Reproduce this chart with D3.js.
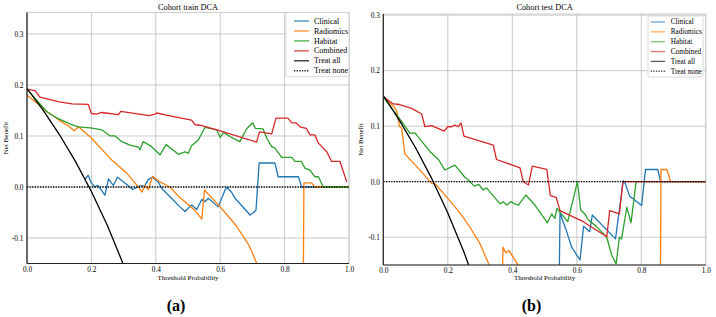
<!DOCTYPE html>
<html>
<head>
<meta charset="utf-8">
<script src="https://cdn.jsdelivr.net/npm/d3@7/dist/d3.min.js"></script>
<style>
  html, body { margin: 0; padding: 0; background: #fff; }
  svg { display: block; }
  text { font-family: "Liberation Serif", "DejaVu Serif", serif; fill: #000; }
</style>
</head>
<body>
<svg id="chart" width="716" height="317"></svg>
<script>
// ---------------- DATA (threshold probability, net benefit) ----------------
const xTicks = [0.0, 0.2, 0.4, 0.6, 0.8, 1.0];
const yTicks = [-0.1, 0.0, 0.1, 0.2, 0.3];
const seriesNames = ["Clinical", "Radiomics", "Habitat", "Combined", "Treat all", "Treat none"];

// Cohort train
const trainClinical = [[0.18,0.015],[0.19,0.023],[0.2,0.008],[0.211,0.0],[0.22,0.003],[0.242,-0.016],[0.253,0.016],[0.268,0.003],[0.281,0.019],[0.306,0.007],[0.328,-0.005],[0.351,0.002],[0.365,0.002],[0.377,0.015],[0.39,0.019],[0.407,0.010],[0.42,-0.004],[0.444,-0.019],[0.475,-0.039],[0.491,-0.048],[0.511,-0.035],[0.527,-0.044],[0.543,-0.024],[0.553,-0.029],[0.563,-0.022],[0.594,-0.039],[0.615,-0.006],[0.622,-0.001],[0.636,-0.011],[0.646,-0.022],[0.693,-0.055],[0.711,-0.046],[0.721,0.047],[0.77,0.047],[0.78,0.020],[0.843,0.020],[0.853,0.0],[1.0,0.0]];
const trainRadiomics = [[0,0.180],[0.03,0.165],[0.061,0.148],[0.085,0.138],[0.102,0.130],[0.128,0.120],[0.147,0.110],[0.16,0.118],[0.2,0.096],[0.258,0.056],[0.31,0.027],[0.33,0.012],[0.346,0.0],[0.357,-0.010],[0.366,0.003],[0.377,-0.005],[0.39,0.021],[0.41,0.011],[0.444,0.0],[0.47,-0.018],[0.496,-0.032],[0.52,-0.045],[0.543,-0.063],[0.551,-0.006],[0.6,-0.039],[0.65,-0.076],[0.69,-0.115],[0.711,-0.146],[0.73,-0.18],[0.857,-0.3],[0.86,0.008],[0.884,0.008],[0.894,0.0],[1.0,0.0]];
const trainHabitat = [[0,0.192],[0.03,0.170],[0.061,0.148],[0.087,0.137],[0.118,0.128],[0.139,0.122],[0.159,0.118],[0.196,0.116],[0.216,0.114],[0.232,0.112],[0.258,0.100],[0.273,0.100],[0.294,0.089],[0.32,0.082],[0.346,0.078],[0.351,0.073],[0.361,0.089],[0.387,0.079],[0.413,0.063],[0.432,0.083],[0.47,0.064],[0.491,0.069],[0.501,0.066],[0.511,0.081],[0.532,0.092],[0.553,0.117],[0.589,0.112],[0.6,0.097],[0.611,0.107],[0.63,0.099],[0.661,0.089],[0.682,0.114],[0.701,0.126],[0.709,0.115],[0.733,0.114],[0.745,0.095],[0.76,0.079],[0.77,0.076],[0.791,0.058],[0.822,0.058],[0.832,0.050],[0.852,0.050],[0.863,0.037],[0.879,0.033],[0.894,0.020],[0.905,0.020],[0.92,0.0],[1.0,0.0]];
const trainCombined = [[0,0.192],[0.025,0.189],[0.04,0.176],[0.1,0.167],[0.14,0.163],[0.19,0.162],[0.2,0.144],[0.216,0.143],[0.232,0.146],[0.284,0.142],[0.291,0.148],[0.38,0.140],[0.398,0.143],[0.403,0.145],[0.44,0.140],[0.511,0.131],[0.522,0.122],[0.537,0.121],[0.59,0.112],[0.713,0.088],[0.722,0.108],[0.76,0.104],[0.773,0.135],[0.81,0.135],[0.822,0.126],[0.837,0.125],[0.848,0.118],[0.867,0.115],[0.879,0.102],[0.894,0.102],[0.905,0.086],[0.931,0.069],[0.946,0.050],[0.972,0.050],[0.993,0.010]];
const trainTreatAll = [[0,0.193],[0.05,0.1505],[0.1,0.1033],[0.15,0.0506],[0.2,-0.0088],[0.25,-0.076],[0.3,-0.153]];
const trainTreatNone = [[0,0],[1,0]];

// Cohort test
const testClinical = [[0.545,-0.2],[0.548,-0.055],[0.556,-0.07],[0.566,-0.085],[0.584,-0.118],[0.61,-0.141],[0.621,-0.080],[0.64,-0.090],[0.648,-0.060],[0.72,-0.103],[0.744,0.002],[0.75,-0.003],[0.764,-0.026],[0.801,-0.043],[0.813,0.022],[0.851,0.022],[0.86,0.0],[1.0,0.0]];
const testRadiomics = [[0,0.153],[0.031,0.136],[0.041,0.129],[0.05,0.100],[0.057,0.096],[0.067,0.050],[0.072,0.047],[0.109,0.024],[0.15,-0.003],[0.161,-0.004],[0.2,-0.030],[0.222,-0.045],[0.25,-0.066],[0.274,-0.087],[0.3,-0.112],[0.326,-0.147],[0.35,-0.19],[0.369,-0.2],[0.371,-0.118],[0.38,-0.128],[0.39,-0.124],[0.42,-0.152],[0.45,-0.2],[0.857,-0.5],[0.861,0.022],[0.879,0.022],[0.891,0.0],[1.0,0.0]];
const testHabitat = [[0,0.153],[0.057,0.108],[0.083,0.087],[0.098,0.088],[0.145,0.054],[0.171,0.040],[0.191,0.021],[0.222,0.030],[0.253,0.008],[0.262,0.004],[0.282,-0.008],[0.296,-0.005],[0.31,-0.015],[0.32,-0.011],[0.362,-0.040],[0.372,-0.036],[0.383,-0.042],[0.395,-0.036],[0.408,-0.040],[0.419,-0.042],[0.442,-0.024],[0.47,-0.042],[0.509,-0.074],[0.522,-0.058],[0.532,-0.066],[0.538,-0.048],[0.572,-0.072],[0.602,0.0],[0.612,-0.051],[0.625,-0.058],[0.636,-0.069],[0.66,-0.08],[0.693,-0.100],[0.708,-0.132],[0.722,-0.148],[0.732,-0.100],[0.739,-0.103],[0.755,-0.046],[0.768,-0.074],[0.784,0.0],[1.0,0.0]];
const testCombined = [[0,0.153],[0.031,0.140],[0.05,0.139],[0.088,0.132],[0.119,0.122],[0.129,0.099],[0.15,0.101],[0.189,0.091],[0.2,0.099],[0.212,0.099],[0.222,0.102],[0.232,0.099],[0.241,0.106],[0.25,0.082],[0.341,0.066],[0.351,0.040],[0.424,0.025],[0.434,0.0],[0.45,-0.006],[0.462,0.028],[0.507,0.022],[0.518,-0.025],[0.536,-0.028],[0.548,-0.052],[0.62,-0.072],[0.693,-0.099],[0.702,-0.052],[0.732,-0.058],[0.743,0.0],[1.0,0.0]];
const testTreatAll = [[0,0.155],[0.05,0.1105],[0.1,0.0611],[0.15,0.0059],[0.2,-0.0563],[0.25,-0.1267],[0.3,-0.2071]];
const testTreatNone = [[0,0],[1,0]];

// ---------------- STYLE / LAYOUT ----------------
const colors = ["#1f77b4", "#ff7f0e", "#2ca02c", "#d62728", "#000000", "#000000"];

const panels = [
  { title: "Cohort train DCA", tag: "(a)", tagX: 176,
    x0: 27, x1: 349, yTopPx: 12.5, yBotPx: 263.5, yMin: -0.15, yMax: 0.342,
    data: [trainClinical, trainRadiomics, trainHabitat, trainCombined, trainTreatAll, trainTreatNone],
    legend: { x: 286, y: 12.7, w: 63, h: 64, lineX0: 8, lineX1: 23, textX: 28, row0: 8.3, step: 9.95, fs: 8, op: 0.85 },
    ylabX: 5.7 },
  { title: "Cohort test DCA", tag: "(b)", tagX: 531.5,
    x0: 383.3, x1: 705.8, yTopPx: 14, yBotPx: 265, yMin: -0.15, yMax: 0.302,
    data: [testClinical, testRadiomics, testHabitat, testCombined, testTreatAll, testTreatNone],
    legend: { x: 648, y: 16, w: 55, h: 61, lineX0: 2.7, lineX1: 17, textX: 22.7, row0: 6, step: 9.85, fs: 7.3, op: 0.65 },
    ylabX: 360.7 }
];

const svg = d3.select("#chart");

panels.forEach((p, pi) => {
  const x = d3.scaleLinear().domain([0, 1]).range([p.x0, p.x1]);
  const y = d3.scaleLinear().domain([p.yMin, p.yMax]).range([p.yBotPx, p.yTopPx]);
  const g = svg.append("g");
  const clipId = "clip" + pi;
  svg.append("clipPath").attr("id", clipId).append("rect")
    .attr("x", p.x0).attr("y", p.yTopPx).attr("width", p.x1 - p.x0).attr("height", p.yBotPx - p.yTopPx);

  // grid
  g.selectAll(".vg").data(xTicks).enter().append("line")
    .attr("x1", d => x(d)).attr("x2", d => x(d)).attr("y1", p.yTopPx).attr("y2", p.yBotPx)
    .attr("stroke", "#c4c4c4").attr("stroke-width", 0.9);
  g.selectAll(".hg").data(yTicks).enter().append("line")
    .attr("x1", p.x0).attr("x2", p.x1).attr("y1", d => y(d)).attr("y2", d => y(d))
    .attr("stroke", "#c4c4c4").attr("stroke-width", 0.9);

  // frame: top/right light
  g.append("rect").attr("x", p.x0).attr("y", p.yTopPx).attr("width", p.x1 - p.x0).attr("height", p.yBotPx - p.yTopPx)
    .attr("fill", "none").attr("stroke", "#c8c8c8").attr("stroke-width", 0.9);

  // lines
  const line = d3.line().x(d => x(d[0])).y(d => y(d[1]));
  const lg = g.append("g").attr("clip-path", `url(#${clipId})`);
  p.data.forEach((ser, si) => {
    lg.append("path").attr("d", line(ser)).attr("fill", "none")
      .attr("stroke", colors[si]).attr("stroke-width", 1.3)
      .attr("stroke-linejoin", "round")
      .attr("stroke-dasharray", si === 5 ? "1.3,1.3" : null);
  });

  // left & bottom spines (dark)
  g.append("line").attr("x1", p.x0).attr("x2", p.x0).attr("y1", p.yTopPx).attr("y2", p.yBotPx)
    .attr("stroke", "#222").attr("stroke-width", 1.2);
  g.append("line").attr("x1", p.x0).attr("x2", p.x1).attr("y1", p.yBotPx).attr("y2", p.yBotPx)
    .attr("stroke", "#222").attr("stroke-width", 1.2);

  // axes tick labels via d3 axes
  const xAxis = d3.axisBottom(x).tickValues(xTicks).tickFormat(d3.format(".1f")).tickSize(0).tickPadding(3);
  const xa = g.append("g").attr("transform", `translate(0,${p.yBotPx})`).call(xAxis);
  xa.select(".domain").remove();
  xa.selectAll("text").attr("font-size", 7.3).attr("font-family", "Liberation Serif").attr("fill", "#000");

  const yAxis = d3.axisLeft(y).tickValues(yTicks).tickFormat(d => d3.format(".1f")(d).replace("−", "-")).tickSize(0).tickPadding(3.5);
  const ya = g.append("g").attr("transform", `translate(${p.x0},0)`).call(yAxis);
  ya.select(".domain").remove();
  ya.selectAll("text").attr("font-size", 7.3).attr("font-family", "Liberation Serif").attr("fill", "#000");

  // titles and labels
  const cx = (p.x0 + p.x1) / 2;
  g.append("text").attr("x", cx).attr("y", 9.7).attr("text-anchor", "middle").attr("font-size", 8.3).text(p.title);
  g.append("text").attr("x", cx).attr("y", 280).attr("text-anchor", "middle").attr("font-size", 7).text("Threshold Probability");
  g.append("text").attr("transform", `translate(${p.ylabX + 2.3},${(p.yTopPx + p.yBotPx) / 2}) rotate(-90)`)
    .attr("text-anchor", "middle").attr("font-size", 7).text("Net Benefit");
  g.append("text").attr("x", p.tagX).attr("y", 311).attr("text-anchor", "middle")
    .attr("font-size", 16).attr("font-weight", "bold").text(p.tag);

  // legend
  const L = p.legend;
  const leg = g.append("g");
  leg.append("rect").attr("x", L.x).attr("y", L.y).attr("width", L.w).attr("height", L.h)
    .attr("rx", 1.5).attr("fill", "#fff").attr("fill-opacity", 0.85).attr("stroke", "#d0d0d0").attr("stroke-width", 0.8);
  seriesNames.forEach((nm, i) => {
    const yy = L.y + L.row0 + i * L.step;
    leg.append("line").attr("x1", L.x + L.lineX0).attr("x2", L.x + L.lineX1).attr("y1", yy).attr("y2", yy)
      .attr("stroke", colors[i]).attr("stroke-width", 1.3).attr("stroke-opacity", L.op)
      .attr("stroke-dasharray", i === 5 ? "1.3,1.3" : null);
    leg.append("text").attr("x", L.x + L.textX).attr("y", yy).attr("dy", "0.33em")
      .attr("font-size", L.fs).text(nm);
  });
});
</script>
</body>
</html>
